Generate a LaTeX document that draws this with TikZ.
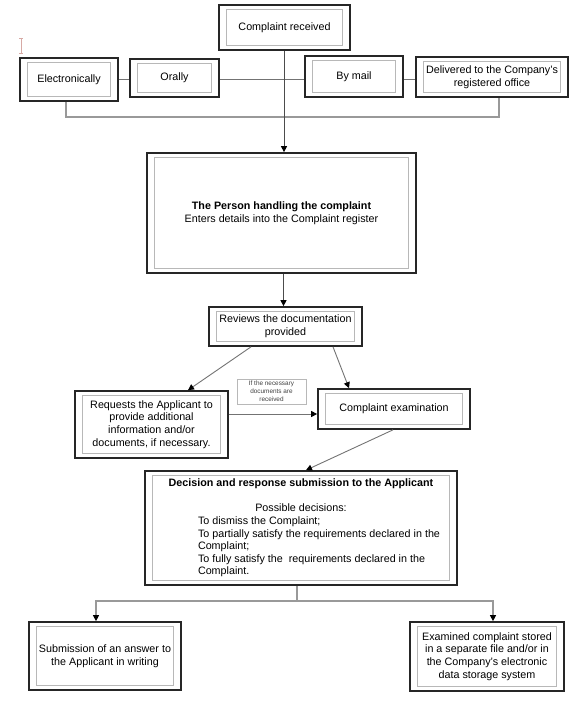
\documentclass[tikz,border=0pt]{standalone}
\usepackage{fontspec}
\setmainfont{Liberation Sans}
\usetikzlibrary{arrows.meta}
\newcommand{\dbox}[6]{%
  \node[outerbox, minimum width={(#4)-(#2)}, minimum height={(#5)-(#3)}] (#1) at ({((#2)+(#4))/2},{((#3)+(#5))/2}) {#6};
  \draw[innerbox] ([shift={(8pt,-5.5pt)}]#1.north west) rectangle ([shift={(-8pt,5.5pt)}]#1.south east);
}
\begin{document}
\begin{tikzpicture}[x=1pt,y=-1pt,
  font=\fontsize{10.75}{12.6}\selectfont,
  outerbox/.style={draw=black!85, line width=1.7pt, align=center, inner sep=0pt},
  innerbox/.style={draw=black!28, line width=0.8pt},
  conn/.style={draw=black!55, line width=0.9pt},
  lightconn/.style={draw=black!40, line width=1.4pt},
  tip/.style={-{Triangle[length=6pt,width=6pt,color=black]}},
  labelbox/.style={draw=black!28, line width=0.7pt, align=center, inner sep=0pt,
    text=black!75, font=\fontsize{6.4}{7.8}\selectfont}]
\useasboundingbox (0,0) rectangle (584,711);
% cursor mark
\draw[draw={rgb,255:red,215;green,170;blue,165}, line width=0.7pt]
  (19,38) -- (23,38) (21,38) -- (21,53) (19,53) -- (23,53);

\dbox{CR}{219}{5}{350}{50}{Complaint received}
\dbox{E}{20}{58}{118}{101}{Electronically}
\dbox{O}{130}{59}{219}{97}{Orally}
\dbox{B}{305}{56}{403}{97}{By mail}
\dbox{D}{416}{57}{568}{97}{Delivered to the Company's\\registered office}
\dbox{P}{147}{153}{416}{273}{\textbf{The Person handling the complaint}\\Enters details into the Complaint register}
\dbox{R}{209}{307}{362}{346}{Reviews the documentation\\provided}
\dbox{Q}{75}{391}{228}{458}{Requests the Applicant to\\provide additional\\information and/or\\documents, if necessary.}
\dbox{X}{318}{389}{470}{429}{Complaint examination}
\dbox{Dec}{145}{471}{457}{585}{\begin{minipage}{292pt}
  {\centering\textbf{Decision and response submission to the Applicant}\par
  \vspace{12.6pt}Possible decisions:\par}
  {\raggedright\leftskip=43pt
  To dismiss the Complaint;\\
  To partially satisfy the requirements declared in the\\
  Complaint;\\
  To fully satisfy the\ \ requirements declared in the\\
  Complaint.\par}
  \end{minipage}}
\dbox{S}{29}{622}{181}{690}{Submission of an answer to\\the Applicant in writing}
\dbox{Ex}{410}{622}{564}{691}{Examined complaint stored\\in a separate file and/or in\\the Company's electronic\\data storage system}

\node[labelbox, minimum width=69pt, minimum height=25pt] (L) at (271.5,391.5)
  {If the necessary\\documents are\\received};

% top connectors
\coordinate (hl) at (0,79);
\coordinate (bl) at (0,117);
\draw[conn] (E.east |- hl) -- (O.west |- hl);
\draw[conn] (O.east |- hl) -- (B.west |- hl);
\draw[conn] (B.east |- hl) -- (D.west |- hl);
\draw[lightconn] ([xshift=-3pt]E.south) -- ([xshift=-3pt]E.south |- bl)
  -- ([xshift=7pt]D.south |- bl) -- ([xshift=7pt]D.south);
\draw[conn, draw=black!70, tip] ([xshift=-0.5pt]CR.south) -- ([xshift=-0.5pt]CR.south |- P.north);
\draw[conn, draw=black!70, tip] ([xshift=2pt]P.south) -- ([xshift=2pt]P.south |- R.north);
% middle connectors
\draw[conn, tip] ([xshift=-34.5pt]R.south) -- ([xshift=36.5pt]Q.north);
\draw[conn, tip] ([xshift=47.5pt]R.south) -- ([xshift=-45pt]X.north);
\draw[conn, tip] (Q.east |- 0,414) -- (X.west |- 0,414);
\draw[conn, tip] ([xshift=-1pt]X.south) -- ([xshift=5pt]Dec.north);
% bottom connectors
\coordinate (br) at (0,601);
\draw[lightconn, line width=1.1pt] ([xshift=-4pt]Dec.south) -- ([xshift=-4pt]Dec.south |- br);
\draw[lightconn, line width=1.1pt, tip] ([xshift=-4pt]Dec.south |- br) -- ([xshift=-9pt]S.north |- br) -- ([xshift=-9pt]S.north);
\draw[lightconn, line width=1.1pt, tip] ([xshift=-4pt]Dec.south |- br) -- ([xshift=6pt]Ex.north |- br) -- ([xshift=6pt]Ex.north);
\end{tikzpicture}
\end{document}
